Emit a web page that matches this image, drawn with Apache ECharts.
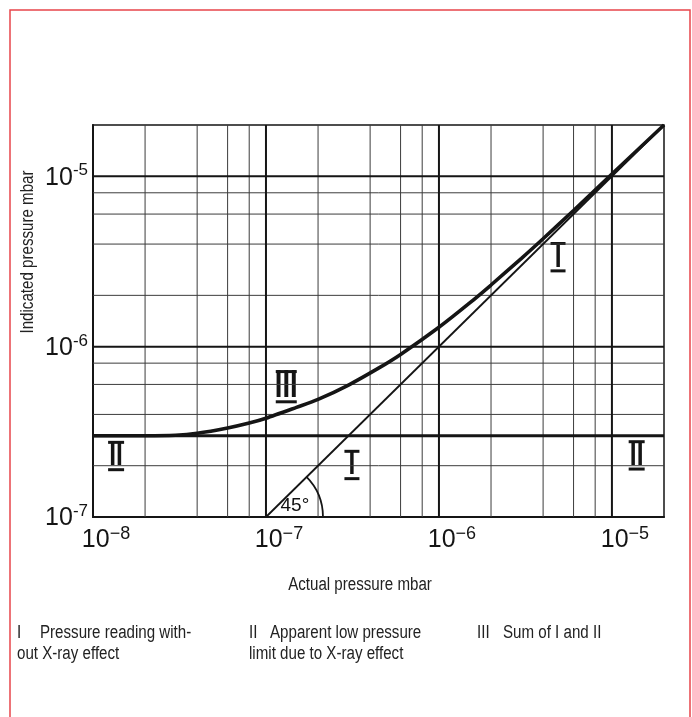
<!DOCTYPE html>
<html><head><meta charset="utf-8">
<script src="https://cdn.jsdelivr.net/npm/echarts@6/dist/echarts.min.js"></script>
<style>html,body{margin:0;padding:0;background:#fff;}#c{width:692px;height:717px;}</style>
</head><body><div id="c"></div>
<script>
const FONT = '"Liberation Sans", Arial, sans-serif';

// ---- axes ----
const xMin = 1e-8, xMax = 2e-5;
const yMin = 1e-7, yMax = 2e-5;
const xTickExponents = [-8, -7, -6, -5];
const yTickExponents = [-7, -6, -5];
const xGridMajor = [1e-7, 1e-6, 1e-5];
const xGridMinor = [2e-8, 4e-8, 6e-8, 8e-8, 2e-7, 4e-7, 6e-7, 8e-7, 2e-6, 4e-6, 6e-6, 8e-6];
const yGridMajor = [1e-6, 1e-5];
const yGridMinor = [2e-7, 4e-7, 6e-7, 8e-7, 2e-6, 4e-6, 6e-6, 8e-6];

// ---- series ----
const lineI_x = [1e-7, 2e-5];
const lineI_y = [1e-7, 2e-5];
const lineII_x = [1e-8, 2e-5];
const lineII_y = [3e-7, 3e-7];
const curveIII_x = [1e-8, 2e-8, 3e-8, 4e-8, 6e-8, 8e-8, 1e-7, 1.5e-7, 2e-7, 3e-7, 4.5e-7, 6e-7, 1e-6, 1.5e-6, 2e-6, 3e-6, 4e-6, 6e-6, 1e-5, 2e-5];
const curveIII_y = [3.0e-7, 3.0e-7, 3.02e-7, 3.1e-7, 3.33e-7, 3.56e-7, 3.8e-7, 4.4e-7, 4.9e-7, 5.95e-7, 7.5e-7, 9e-7, 1.3e-6, 1.8e-6, 2.3e-6, 3.3e-6, 4.3e-6, 6.3e-6, 1.03e-5, 2e-5];

// ---- annotations ----
const numeralText = ['II', 'II', 'I', 'I', 'III'];
const numeralX = [1.36e-8, 1.39e-5, 3.14e-7, 4.88e-6, 1.31e-7];
const numeralY = [2.28e-7, 2.3e-7, 2.02e-7, 3.35e-6, 5.82e-7];
const angleText = '45°';
const angleTextPos = [1.47e-7, 1.17e-7];
const angleVertex = [1e-7, 1e-7];

const xAxisTitle = 'Actual pressure mbar';
const yAxisTitle = 'Indicated pressure mbar';
const legendNumerals = ['I', 'II', 'III'];
const legendLine1 = ['Pressure reading with-', 'Apparent low pressure', 'Sum of I and II'];
const legendLine2 = ['out X-ray effect', 'limit due to X-ray effect', ''];

const chart = echarts.init(document.getElementById('c'), null, {renderer: 'canvas'});

function expOf(v) {
  const l = Math.log10(v);
  const e = Math.round(l);
  return Math.abs(l - e) < 1e-6 ? e : null;
}

function gridSeries(vals, vertical, width, color) {
  return vals.map(v => ({
    type: 'line', z: 1, silent: true, symbol: 'none',
    lineStyle: {width: width, color: color},
    data: vertical ? [[v, yMin], [v, yMax]] : [[xMin, v], [xMax, v]]
  }));
}

const option = {
  animation: false,
  backgroundColor: '#fff',
  grid: {left: 93, top: 125, right: 28, bottom: 200, show: true, borderColor: '#151515', borderWidth: 1.5, backgroundColor: 'transparent'},
  xAxis: {
    type: 'log', logBase: 10, min: xMin, max: xMax,
    axisLine: {show: true, lineStyle: {color: '#151515', width: 2}},
    axisTick: {show: false},
    splitLine: {show: false},
    minorSplitLine: {show: false},
    axisLabel: {
      margin: 8,
      formatter: v => { const e = expOf(v); return (e !== null && xTickExponents.includes(e)) ? '{sp| }{b|10}{s|\u2212' + Math.abs(e) + '}' : ''; },
      rich: {
        sp: {width: 26},
        b: {fontSize: 25, fontFamily: FONT, color: '#151515', lineHeight: 28, verticalAlign: 'bottom'},
        s: {fontSize: 18, fontFamily: FONT, color: '#151515', lineHeight: 12, verticalAlign: 'top'}
      }
    }
  },
  yAxis: {
    type: 'log', logBase: 10, min: yMin, max: yMax,
    axisLine: {show: true, lineStyle: {color: '#151515', width: 2}},
    axisTick: {show: false},
    splitLine: {show: false},
    minorSplitLine: {show: false},
    axisLabel: {
      margin: 5,
      formatter: v => { const e = expOf(v); return (e !== null && yTickExponents.includes(e)) ? '{b|10}{s|-' + Math.abs(e) + '}' : ''; },
      rich: {
        b: {fontSize: 25, fontFamily: FONT, color: '#151515', lineHeight: 28, verticalAlign: 'bottom'},
        s: {fontSize: 17, fontFamily: FONT, color: '#151515', lineHeight: 12, verticalAlign: 'top'}
      }
    }
  },
  series: [].concat(
    gridSeries(xGridMinor, true, 1, '#3c3c3c'),
    gridSeries(yGridMinor, false, 1, '#3c3c3c'),
    gridSeries(xGridMajor, true, 2, '#151515'),
    gridSeries(yGridMajor, false, 2, '#151515'),
    [
      {
        name: 'I', type: 'line', z: 3, symbol: 'none', silent: true,
        lineStyle: {color: '#151515', width: 1.8},
        data: lineI_x.map((x, i) => [x, lineI_y[i]])
      },
      {
        name: 'II', type: 'line', z: 3, symbol: 'none', silent: true,
        lineStyle: {color: '#151515', width: 3},
        data: lineII_x.map((x, i) => [x, lineII_y[i]])
      },
      {
        name: 'III', type: 'line', z: 4, symbol: 'none', silent: true, smooth: 0.25,
        lineStyle: {color: '#151515', width: 3.6},
        data: curveIII_x.map((x, i) => [x, curveIII_y[i]])
      },
      {
        name: 'angle', type: 'scatter', z: 5, symbolSize: 0, silent: true,
        itemStyle: {color: '#151515', opacity: 1},
        data: [{value: angleTextPos, name: angleText}],
        label: {show: true, position: 'inside', formatter: '{b}', fontSize: 19, fontFamily: FONT, color: '#111', textBorderWidth: 0, opacity: 1}
      }
    ]
  ),
  graphic: []
};
chart.setOption(option);

const vtx = chart.convertToPixel({gridIndex: 0}, angleVertex);
const legendX = [17, 249, 477];
const legendTextX = [40, 270, 503];
const NS = 0.84; // narrow typeface look
const graphics = [
  {type: 'rect', shape: {x: 10, y: 10, width: 680, height: 760}, style: {fill: 'none', stroke: '#e8464b', lineWidth: 1.5}, silent: true},
  {type: 'arc', shape: {cx: vtx[0], cy: vtx[1], r: 57, startAngle: -Math.PI / 4, endAngle: 0, clockwise: true}, style: {stroke: '#151515', lineWidth: 1.8, fill: 'none'}, z: 10, silent: true},
  {type: 'text', x: 360, y: 585, scaleX: NS, style: {text: xAxisTitle, font: '18px ' + FONT, fill: '#222', textAlign: 'center', textVerticalAlign: 'middle'}, silent: true},
  {type: 'text', x: 28, y: 252, rotation: Math.PI / 2, scaleX: NS, style: {text: yAxisTitle, font: '18px ' + FONT, fill: '#222', textAlign: 'center', textVerticalAlign: 'middle'}, silent: true}
];
legendNumerals.forEach((n, i) => {
  graphics.push({type: 'text', x: legendX[i], y: 633, scaleX: NS, style: {text: n, font: '18px ' + FONT, fill: '#222', textVerticalAlign: 'middle'}, silent: true});
  graphics.push({type: 'text', x: legendTextX[i], y: 633, scaleX: NS, style: {text: legendLine1[i], font: '18px ' + FONT, fill: '#222', textVerticalAlign: 'middle'}, silent: true});
  if (legendLine2[i]) graphics.push({type: 'text', x: legendX[i], y: 654, scaleX: NS, style: {text: legendLine2[i], font: '18px ' + FONT, fill: '#222', textVerticalAlign: 'middle'}, silent: true});
});
// numerals with bars above and below
const barW = {1: 15, 2: 16, 3: 21};
const fs = {1: 34, 2: 34, 3: 38};
numeralText.forEach((t, i) => {
  const p = chart.convertToPixel({gridIndex: 0}, [numeralX[i], numeralY[i]]);
  const n = t.length;
  const cap = fs[n] * 0.716;
  const w = barW[n];
  graphics.push({
    type: 'group', x: p[0], y: p[1], z: 20, silent: true,
    children: [
      {type: 'rect', shape: {x: -w / 2 - 5, y: -cap / 2 - 4, width: w + 10, height: cap + 8}, style: {fill: '#fff'}},
      {type: 'text', x: 0, y: 0, scaleX: 0.72, style: {text: t, font: 'bold ' + fs[n] + 'px ' + FONT, fill: '#151515', textAlign: 'center', textVerticalAlign: 'middle'}},
      {type: 'rect', shape: {x: -w / 2, y: -cap / 2 - 3, width: w, height: 3}, style: {fill: '#151515'}},
      {type: 'rect', shape: {x: -w / 2, y: cap / 2, width: w, height: 3}, style: {fill: '#151515'}}
    ]
  });
});
chart.setOption({graphic: graphics});
</script>
</body></html>
